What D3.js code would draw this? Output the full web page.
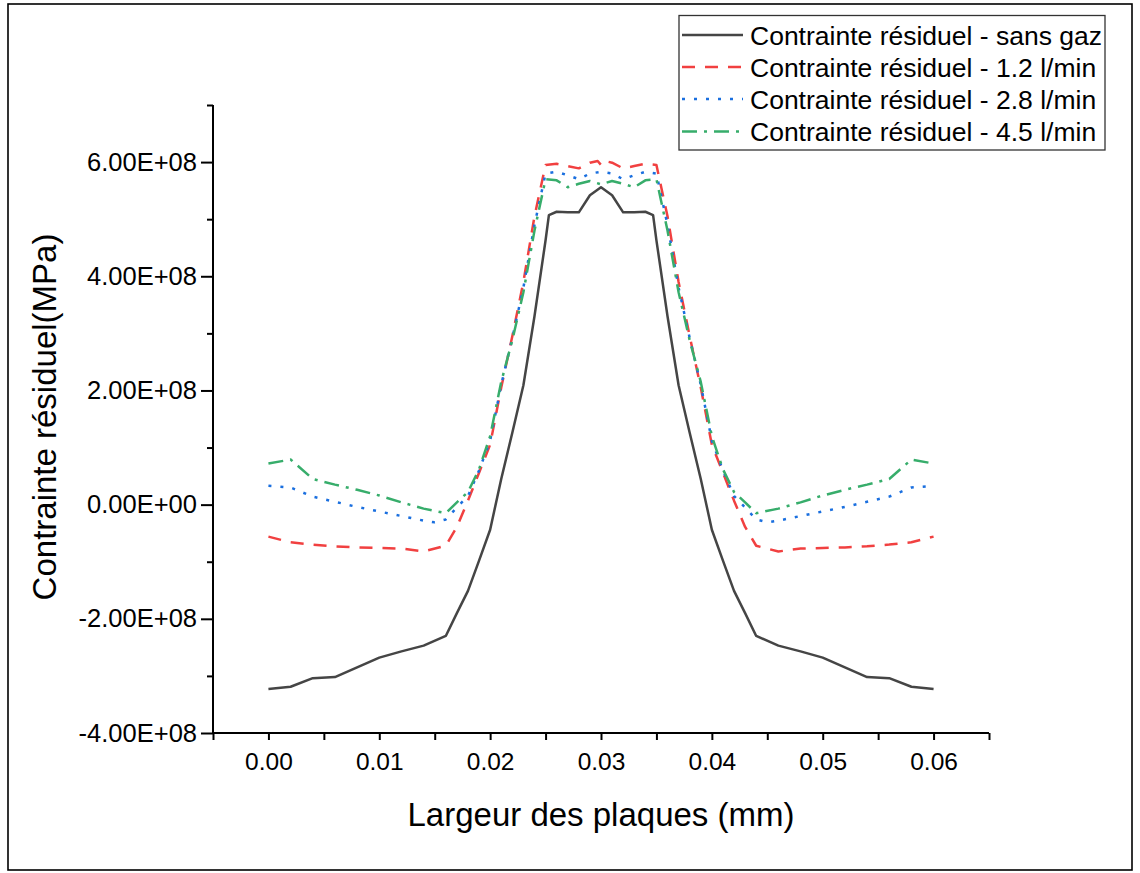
<!DOCTYPE html>
<html>
<head>
<meta charset="utf-8">
<script src="https://cdn.jsdelivr.net/npm/d3@7"></script>
<style>
  html, body { margin: 0; padding: 0; background: #fff; }
  svg { display: block; }
  text { font-family: "Liberation Sans", Arial, sans-serif; fill: #000; }
</style>
</head>
<body>
<svg id="chart" width="1140" height="873"></svg>
<script>
// Residual stress across the plate width, one series per shielding-gas flow rate.

// Without gas
const xSans = [0, 0.002, 0.004, 0.006, 0.008, 0.010, 0.012, 0.014, 0.016, 0.017, 0.018, 0.019, 0.020, 0.021, 0.022, 0.023, 0.024, 0.025, 0.0253, 0.026, 0.027, 0.028, 0.029, 0.030, 0.031, 0.032, 0.033, 0.034, 0.0347, 0.035, 0.036, 0.037, 0.038, 0.039, 0.040, 0.041, 0.042, 0.043, 0.044, 0.046, 0.048, 0.050, 0.052, 0.054, 0.056, 0.058, 0.060];
const ySans = [-3.23e8, -3.19e8, -3.04e8, -3.02e8, -2.85e8, -2.68e8, -2.57e8, -2.47e8, -2.30e8, -1.90e8, -1.51e8, -0.98e8, -0.44e8, 0.45e8, 1.26e8, 2.09e8, 3.30e8, 4.63e8, 5.07e8, 5.13e8, 5.12e8, 5.12e8, 5.42e8, 5.56e8, 5.42e8, 5.12e8, 5.12e8, 5.13e8, 5.07e8, 4.63e8, 3.30e8, 2.09e8, 1.26e8, 0.45e8, -0.44e8, -0.98e8, -1.51e8, -1.90e8, -2.30e8, -2.47e8, -2.57e8, -2.68e8, -2.85e8, -3.02e8, -3.04e8, -3.19e8, -3.23e8];

// 1.2 l/min
const x12 = [0, 0.002, 0.004, 0.006, 0.008, 0.010, 0.012, 0.014, 0.016, 0.017, 0.018, 0.019, 0.020, 0.021, 0.022, 0.023, 0.024, 0.025, 0.026, 0.027, 0.028, 0.029, 0.0297, 0.030, 0.0303, 0.031, 0.032, 0.033, 0.034, 0.035, 0.036, 0.037, 0.038, 0.039, 0.040, 0.041, 0.042, 0.043, 0.044, 0.046, 0.048, 0.050, 0.052, 0.054, 0.056, 0.058, 0.060];
const y12 = [-0.56e8, -0.66e8, -0.70e8, -0.73e8, -0.75e8, -0.76e8, -0.77e8, -0.82e8, -0.72e8, -0.39e8, 0.07e8, 0.56e8, 1.05e8, 2.05e8, 2.95e8, 3.90e8, 5.05e8, 5.95e8, 5.97e8, 5.93e8, 5.89e8, 5.99e8, 6.02e8, 5.95e8, 6.02e8, 5.99e8, 5.89e8, 5.93e8, 5.97e8, 5.95e8, 5.05e8, 3.90e8, 2.95e8, 2.05e8, 1.05e8, 0.56e8, 0.07e8, -0.39e8, -0.72e8, -0.82e8, -0.77e8, -0.76e8, -0.75e8, -0.73e8, -0.70e8, -0.66e8, -0.56e8];

// 2.8 l/min
const x28 = [0, 0.002, 0.004, 0.006, 0.008, 0.010, 0.012, 0.014, 0.015, 0.016, 0.017, 0.018, 0.019, 0.020, 0.021, 0.022, 0.023, 0.024, 0.025, 0.026, 0.027, 0.028, 0.029, 0.030, 0.031, 0.032, 0.033, 0.034, 0.035, 0.036, 0.037, 0.038, 0.039, 0.040, 0.041, 0.042, 0.043, 0.044, 0.045, 0.046, 0.048, 0.050, 0.052, 0.054, 0.056, 0.058, 0.060];
const y28 = [0.33e8, 0.30e8, 0.14e8, 0.05e8, -0.04e8, -0.12e8, -0.20e8, -0.28e8, -0.31e8, -0.26e8, -0.05e8, 0.15e8, 0.60e8, 1.12e8, 2.10e8, 2.92e8, 3.80e8, 4.90e8, 5.80e8, 5.83e8, 5.77e8, 5.70e8, 5.80e8, 5.83e8, 5.80e8, 5.70e8, 5.77e8, 5.83e8, 5.80e8, 4.90e8, 3.80e8, 2.92e8, 2.10e8, 1.12e8, 0.60e8, 0.15e8, -0.05e8, -0.26e8, -0.31e8, -0.28e8, -0.20e8, -0.12e8, -0.04e8, 0.05e8, 0.14e8, 0.30e8, 0.33e8];

// 4.5 l/min
const x45 = [0, 0.002, 0.004, 0.006, 0.008, 0.010, 0.012, 0.014, 0.016, 0.017, 0.018, 0.019, 0.020, 0.021, 0.022, 0.023, 0.024, 0.025, 0.026, 0.027, 0.028, 0.029, 0.030, 0.031, 0.032, 0.033, 0.034, 0.035, 0.036, 0.037, 0.038, 0.039, 0.040, 0.041, 0.042, 0.043, 0.044, 0.046, 0.048, 0.050, 0.052, 0.054, 0.056, 0.058, 0.060];
const y45 = [0.72e8, 0.79e8, 0.45e8, 0.35e8, 0.26e8, 0.16e8, 0.04e8, -0.07e8, -0.15e8, 0.04e8, 0.22e8, 0.62e8, 1.20e8, 2.15e8, 2.88e8, 3.72e8, 4.80e8, 5.70e8, 5.68e8, 5.56e8, 5.62e8, 5.67e8, 5.61e8, 5.67e8, 5.62e8, 5.56e8, 5.68e8, 5.70e8, 4.80e8, 3.72e8, 2.88e8, 2.15e8, 1.20e8, 0.62e8, 0.22e8, 0.04e8, -0.15e8, -0.07e8, 0.04e8, 0.16e8, 0.26e8, 0.35e8, 0.45e8, 0.79e8, 0.72e8];

const seriesNames = [
  "Contrainte résiduel - sans gaz",
  "Contrainte résiduel - 1.2 l/min",
  "Contrainte résiduel - 2.8 l/min",
  "Contrainte résiduel - 4.5 l/min"
];

// Axis ticks and labels
const xTicks = [-0.005, 0, 0.005, 0.01, 0.015, 0.02, 0.025, 0.03, 0.035, 0.04, 0.045, 0.05, 0.055, 0.06, 0.065];
const xTickLabels = ["", "0.00", "", "0.01", "", "0.02", "", "0.03", "", "0.04", "", "0.05", "", "0.06", ""];
const yTicks = [-4e8, -2e8, 0, 2e8, 4e8, 6e8];
const yTickLabels = ["-4.00E+08", "-2.00E+08", "0.00E+00", "2.00E+08", "4.00E+08", "6.00E+08"];
const yMinorTicks = [-3e8, -1e8, 1e8, 3e8, 5e8, 7e8];

const xTitle = "Largeur des plaques (mm)";
const yTitle = "Contrainte résiduel(MPa)";

// Styling
const seriesColors = ["#454545", "#f14040", "#1a6fdf", "#37ad6b"];
const seriesDash = [null, "13,10", "3,9", "15,7,3,7"];
const lineWidth = 2.5;

const svg = d3.select("#chart");
const plot = { left: 213, right: 989, top: 105, bottom: 733 };

const x = d3.scaleLinear().domain([-0.005, 0.065]).range([plot.left, plot.right]);
const y = d3.scaleLinear().domain([-4e8, 7e8]).range([plot.bottom, plot.top]);

// Outer frame
svg.append("rect")
  .attr("x", 8).attr("y", 4)
  .attr("width", 1124).attr("height", 866)
  .attr("fill", "none").attr("stroke", "#000").attr("stroke-width", 1.6);

// Curves
const series = [
  { xs: xSans, ys: ySans },
  { xs: x12, ys: y12 },
  { xs: x28, ys: y28 },
  { xs: x45, ys: y45 }
];
const line = d3.line().x(d => x(d[0])).y(d => y(d[1]));

const curves = svg.append("g");
series.forEach((s, i) => {
  const pts = s.xs.map((v, k) => [v, s.ys[k]]);
  curves.append("path")
    .datum(pts)
    .attr("d", line)
    .attr("fill", "none")
    .attr("stroke", seriesColors[i])
    .attr("stroke-width", lineWidth)
    .attr("stroke-linejoin", "round")
    .attr("stroke-dasharray", seriesDash[i]);
});

// Axes
const xAxis = d3.axisBottom(x)
  .tickValues(xTicks)
  .tickFormat((d, i) => xTickLabels[i])
  .tickSize(7).tickSizeOuter(0).tickPadding(13);
const gx = svg.append("g").attr("transform", `translate(0,${plot.bottom})`).call(xAxis);

const yAxisMinor = d3.axisLeft(y).tickValues(yMinorTicks).tickFormat("").tickSize(6).tickSizeOuter(0);
const gyMinor = svg.append("g").attr("transform", `translate(${plot.left},0)`).call(yAxisMinor);
gyMinor.select(".domain").remove();

const yAxis = d3.axisLeft(y)
  .tickValues(yTicks)
  .tickFormat((d, i) => yTickLabels[i])
  .tickSize(12).tickSizeOuter(0).tickPadding(4);
const gy = svg.append("g").attr("transform", `translate(${plot.left},0)`).call(yAxis);

[gx, gy, gyMinor].forEach(g => {
  g.selectAll("path, line").attr("stroke", "#000").attr("stroke-width", 2);
  g.selectAll("text").attr("fill", "#000")
    .attr("font-family", "'Liberation Sans', Arial, sans-serif");
});
gx.selectAll("text").attr("font-size", 24.5);
gy.selectAll("text").attr("font-size", 25.5);
gx.select(".domain").attr("d", `M${plot.left},0H${plot.right}`);
gy.select(".domain").attr("d", `M0,${plot.bottom}V${plot.top}`);

// Axis titles
svg.append("text")
  .attr("x", (x(0) + x(0.06)) / 2).attr("y", 826)
  .attr("text-anchor", "middle").attr("font-size", 33)
  .text(xTitle);

svg.append("text")
  .attr("transform", `translate(56,417) rotate(-90)`)
  .attr("text-anchor", "middle").attr("font-size", 33)
  .text(yTitle);

// Legend
const legend = svg.append("g");
legend.append("rect")
  .attr("x", 679).attr("y", 15.5)
  .attr("width", 426).attr("height", 134.5)
  .attr("fill", "#fff").attr("stroke", "#333").attr("stroke-width", 1.3);
const rowY = [35, 67, 99, 131.5];
seriesNames.forEach((name, i) => {
  legend.append("line")
    .attr("x1", 682).attr("x2", 743)
    .attr("y1", rowY[i]).attr("y2", rowY[i])
    .attr("stroke", seriesColors[i])
    .attr("stroke-width", lineWidth)
    .attr("stroke-dasharray", seriesDash[i]);
  legend.append("text")
    .attr("x", 750).attr("y", rowY[i] + 9.5)
    .attr("font-size", 26.5)
    .text(name);
});
</script>
</body>
</html>
